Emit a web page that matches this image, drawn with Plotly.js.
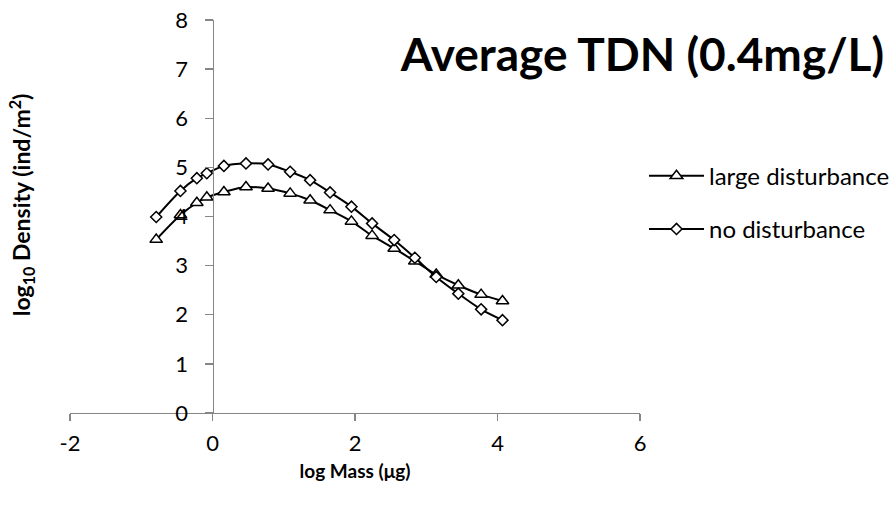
<!DOCTYPE html>
<html>
<head>
<meta charset="utf-8">
<script src="https://cdn.plot.ly/plotly-3.0.1.min.js"></script>
<style>html,body{margin:0;padding:0;background:#fff;}#chart{width:896px;height:506px;}</style>
</head>
<body>
<div id="chart"></div>
<script>
var logMass = [-0.79, -0.45, -0.22, -0.08, 0.16, 0.47, 0.78, 1.09, 1.37, 1.65, 1.95, 2.24, 2.55, 2.84, 3.14, 3.45, 3.77, 4.07];
var largeDisturbance = [3.53, 4.03, 4.28, 4.39, 4.50, 4.60, 4.57, 4.47, 4.33, 4.13, 3.90, 3.61, 3.35, 3.09, 2.82, 2.60, 2.41, 2.28];
var noDisturbance = [3.99, 4.52, 4.78, 4.88, 5.03, 5.08, 5.06, 4.91, 4.74, 4.49, 4.20, 3.86, 3.52, 3.16, 2.77, 2.43, 2.11, 1.89];
var seriesNames = ['large disturbance', 'no disturbance'];
var xTicks = [-2, 0, 2, 4, 6];
var yTicks = [0, 1, 2, 3, 4, 5, 6, 7, 8];

var FONT = 'Lato, "Open Sans", sans-serif';
var traces = [
  {
    x: logMass, y: largeDisturbance, name: seriesNames[0], type: 'scatter', mode: 'lines+markers',
    legendgroup: 'a',
    line: {color: '#000', width: 2, shape: 'spline', smoothing: 0.8},
    marker: {symbol: 'triangle-up', size: 11, color: '#fff', line: {color: '#000', width: 1.5}}
  },
  {
    x: logMass, y: noDisturbance, name: seriesNames[1], type: 'scatter', mode: 'lines+markers',
    legendgroup: 'b',
    line: {color: '#000', width: 2, shape: 'spline', smoothing: 0.8},
    marker: {symbol: 'diamond', size: 8.5, color: '#fff', line: {color: '#000', width: 1.5}}
  }
];

var layout = {
  width: 896, height: 506,
  margin: {l: 70, r: 256, t: 20, b: 93, autoexpand: false},
  paper_bgcolor: '#fff', plot_bgcolor: '#fff',
  font: {family: FONT, size: 22, color: '#000'},
  showlegend: true,
  legend: {
    x: 1.007, y: 0.66, xanchor: 'left', yanchor: 'top',
    font: {family: FONT, size: 24, color: '#000'},
    traceorder: 'grouped', tracegroupgap: 19, itemwidth: 55,
    bgcolor: 'rgba(0,0,0,0)'
  },
  title: {
    text: '<b>Average TDN (0.4mg/L)</b>',
    font: {family: FONT, size: 46, color: '#000'},
    xref: 'container', yref: 'container', x: 0.717, y: 0.891,
    xanchor: 'center', yanchor: 'middle'
  },
  xaxis: {
    range: [-2, 6], tickvals: xTicks, ticktext: xTicks.map(String),
    showgrid: false, zeroline: false, showline: true, linecolor: '#868686', linewidth: 1.3,
    ticks: 'outside', ticklen: 7, tickcolor: '#868686', tickwidth: 1.3,
    ticklabelstandoff: 3, automargin: false,
    tickfont: {family: FONT, size: 22, color: '#000'},
    title: {text: '<b>log Mass (μg)</b>', font: {family: FONT, size: 19, color: '#000'}, standoff: 10}
  },
  yaxis: {
    range: [0, 8], tickvals: yTicks, ticktext: yTicks.map(String),
    anchor: 'free', position: 0.25, automargin: false,
    showgrid: false, zeroline: false, showline: true, linecolor: '#868686', linewidth: 1.3,
    ticks: 'outside', ticklen: 8, tickcolor: '#868686', tickwidth: 1.3,
    ticklabelstandoff: 12,
    tickfont: {family: FONT, size: 22, color: '#000'}
  },
  annotations: [{
    text: '<b>log<sub>10</sub> Density (ind/m<sup>2</sup>)</b>',
    xref: 'paper', yref: 'paper', x: -0.085, y: 0.53, xanchor: 'center', yanchor: 'middle',
    textangle: -90, showarrow: false, font: {family: FONT, size: 23, color: '#000'}
  }]
};

Plotly.newPlot('chart', traces, layout, {displayModeBar: false, staticPlot: true});
</script>
</body>
</html>
